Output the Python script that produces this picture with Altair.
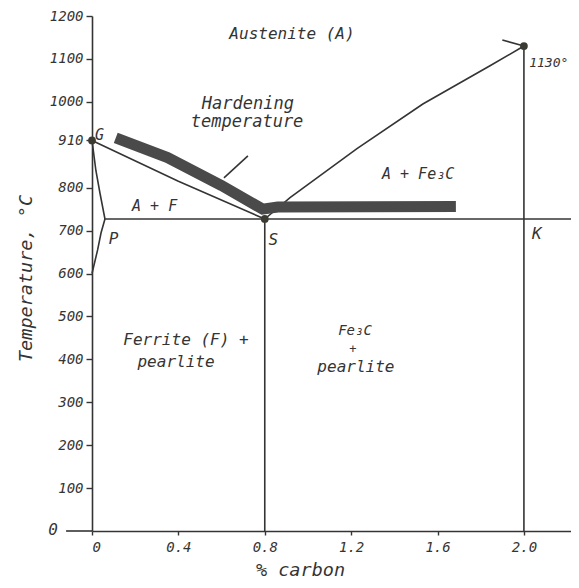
import altair as alt
import pandas as pd

# ---- phase-boundary lines (% carbon, temperature °C) ----
gs_x = [0.0, 0.4, 0.8];                     gs_t = [910, 815, 727]
gp_x = [0.0, 0.018, 0.037, 0.06];           gp_t = [910, 840, 787, 727]
pq_x = [0.06, 0.042, 0.026, 0.0];           pq_t = [727, 695, 655, 600]
psk_x = [0.06, 2.218];                      psk_t = [727, 727]
sv_x = [0.8, 0.8];                          sv_t = [727, 0]
ev_x = [2.0, 2.0];                          ev_t = [1130, 0]
se_x = [0.8, 0.917, 1.227, 1.532, 1.843, 2.0]
se_t = [727, 777, 891, 995, 1084, 1130]
ec_x = [1.90, 2.0];                         ec_t = [1144, 1130]
lead_x = [0.611, 0.722];                    lead_t = [823, 874]
xext_x = [-0.12, 0.0];                      xext_t = [0, 0]

# hardening temperature band
band_x = [0.11, 0.35, 0.6, 0.79, 0.86, 1.685]
band_t = [916, 870, 805, 750, 755, 756]

# marked points G, S, E
pt_x = [0.0, 0.8, 2.0]
pt_t = [910, 727, 1130]

# text annotations
lab_text = ["Austenite (A)", "Hardening", "temperature", "A + F", "G", "P", "S", "K",
            "1130°", "A + Fe₃C", "Ferrite (F) +", "pearlite", "Fe₃C", "+", "pearlite", "0"]
lab_x = [0.926, 0.722, 0.718, 0.29, 0.035, 0.1, 0.84, 2.06,
         2.115, 1.51, 0.435, 0.389, 1.218, 1.208, 1.222, -0.18]
lab_t = [1158, 995, 953, 758, 922, 681, 679, 693,
         1091, 832, 444, 393, 466, 424, 381, 2]
lab_fs = [16, 17, 17, 15, 15, 16, 16, 16, 13, 15, 16, 16, 14, 12, 16, 16]

x_ticks = [0, 0.4, 0.8, 1.2, 1.6, 2.0]
y_ticks = [100, 200, 300, 400, 500, 600, 700, 800, 910, 1000, 1100, 1200]

FONT = "DejaVu Sans Mono"
INK = "#343434"

segs = {
    "GS": (gs_x, gs_t), "GP": (gp_x, gp_t), "PQ": (pq_x, pq_t), "PSK": (psk_x, psk_t),
    "SV": (sv_x, sv_t), "EV": (ev_x, ev_t), "SE": (se_x, se_t), "EC": (ec_x, ec_t),
    "LEAD": (lead_x, lead_t), "XEXT": (xext_x, xext_t),
}
rows = []
for name, (xs_, ts_) in segs.items():
    for i, (xv, tv) in enumerate(zip(xs_, ts_)):
        rows.append({"seg": name, "x": xv, "t": tv, "o": i})
lines_df = pd.DataFrame(rows)
band_df = pd.DataFrame({"x": band_x, "t": band_t, "o": range(len(band_x))})
pts_df = pd.DataFrame({"x": pt_x, "t": pt_t})
lab_df = pd.DataFrame({"text": lab_text, "x": lab_x, "t": lab_t, "fs": lab_fs})

xs = alt.Scale(domain=[0, 2.218], nice=False, zero=False)
ys = alt.Scale(domain=[0, 1200], nice=False, zero=False)

x_axis = alt.Axis(
    values=x_ticks,
    labelExpr="datum.value == 0 ? '0' : format(datum.value, '.1f')",
    title="% carbon", grid=False, tickSize=4, labelPadding=5,
    titleX=208, titleY=38, titleBaseline="middle", titleAlign="center",
)
y_axis = alt.Axis(
    values=y_ticks, format="d", title="Temperature, °C", grid=False, tickSize=6,
    labelPadding=3, titleX=-67, titleY=262, titleBaseline="middle", titleAngle=270,
)

X = alt.X("x:Q", scale=xs, axis=x_axis)
Y = alt.Y("t:Q", scale=ys, axis=y_axis)

lines = alt.Chart(lines_df).mark_line(color=INK, strokeWidth=1.6).encode(
    x=X, y=Y, detail="seg:N", order="o:Q",
)

band = alt.Chart(band_df).mark_line(color="#4a4a4a", strokeWidth=11, strokeCap="butt",
                                    strokeJoin="miter").encode(
    x=X, y=Y, order="o:Q",
)

points = alt.Chart(pts_df).mark_circle(color="#3b3b32", size=60, opacity=1).encode(
    x=X, y=Y,
)

labels = alt.Chart(lab_df).mark_text(font=FONT, fontStyle="italic", color=INK,
                                     align="center", baseline="middle").encode(
    x=X, y=Y,
    text="text:N",
    size=alt.Size("fs:Q", scale=None, legend=None),
)

chart = alt.layer(lines, band, points, labels).properties(
    width=479, height=515,
    autosize=alt.AutoSizeParams(type="none"),
    padding={"left": 84, "top": 8, "right": 0, "bottom": 49},
    background="white",
).configure_view(stroke=None).configure_axis(
    domainColor=INK, domainWidth=1.6, tickColor=INK, tickWidth=1.4,
    labelFont=FONT, labelFontStyle="italic", labelFontSize=14, labelColor=INK,
    titleFont=FONT, titleFontStyle="italic", titleFontSize=18.5, titleColor=INK,
    titleFontWeight="normal",
)

chart.save("out.html", embed_options={"renderer": "svg", "actions": False})
